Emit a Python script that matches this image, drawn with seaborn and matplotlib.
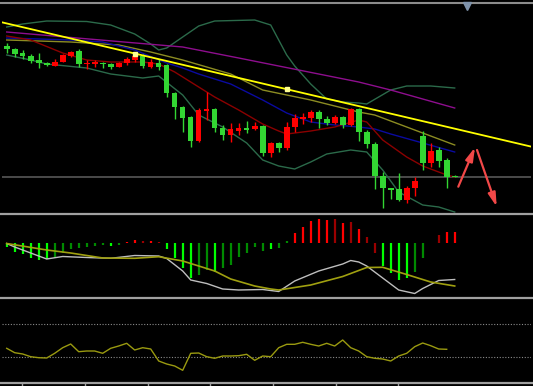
import numpy as np
import matplotlib
matplotlib.use("Agg")
import matplotlib.pyplot as plt
import seaborn as sns

# ---------------- data (screen levels: larger value = lower on the chart) ----------------
opens = [45.7, 49, 53.3, 56, 60.3, 62.7, 65.7, 61.7, 56, 51, 64, 63.3, 62.7, 63.7, 66.7, 63.3, 60.3, 56,
         66.7, 63.3, 65, 92.5, 107, 117.3, 141, 110.7, 109, 127.7, 135, 130.7, 128.3, 129, 126, 153.3, 143.3,
         147.7, 126.7, 119, 118.3, 112.3, 119, 123.3, 117.3, 125, 109.3, 131.7, 144, 176, 188.3, 189.3, 200,
         187.7, 135.7, 162.7, 150, 160, 175.5]
highs = [43, 48.3, 50, 54, 52.7, 62, 58.7, 54.3, 50.7, 48.7, 60, 60, 61.7, 62.7, 61.7, 56.7, 52.7, 54.3,
         59.3, 59.3, 64, 92, 106, 116, 107.7, 92.3, 108, 125, 123.3, 123.3, 121, 121.7, 125, 142, 141.7,
         121.7, 114, 113.3, 110, 110, 116, 115, 116, 108.3, 108, 130, 141.7, 171.7, 188, 172.7, 186, 177.3,
         130.7, 143.3, 147, 158, 175]
lows = [53, 56.7, 59.3, 63, 67.7, 65.5, 66.3, 62, 56.7, 66.7, 69.3, 66.7, 67.7, 69.3, 67.3, 65.3, 61.7, 68.3,
        67.7, 70, 96.7, 119.3, 131.7, 147.3, 142, 120, 131.7, 140, 141.7, 135, 133.3, 130, 155.7, 157.3, 151.7,
        150, 131.7, 124, 121.7, 128.3, 125, 124, 128.3, 126, 141, 148.3, 189.3, 208.3, 199.3, 201, 203.3, 196,
        170, 166.7, 166.7, 187.7, 177]
closes = [49, 54, 56, 61, 63.3, 65, 61.7, 55.3, 51.7, 64, 62.7, 62.3, 64.3, 66.7, 63, 59.3, 56, 66.3, 62.3,
          66.7, 93.3, 106.7, 118.3, 141, 110, 109, 127.7, 135.3, 129, 128.3, 129.7, 125.7, 153.3, 143.3, 148,
          126.7, 118.3, 117.3, 112.3, 119.3, 123.3, 117.3, 125, 109.3, 131.7, 144, 176, 188.3, 189.3, 200,
          187.7, 180.7, 162.7, 150.7, 160.7, 177.3, 176.7]

upper_idx = [0, 2, 5, 10, 13, 16, 18, 19, 20, 22, 24, 26, 31, 33, 35, 36, 38, 40, 42, 44, 45, 48, 50, 53, 56]
upper_val = [27, 24, 21, 21.5, 25, 34, 44, 50, 48, 37, 26, 21, 20, 25, 55, 66, 84, 99, 102, 103, 104, 90, 86, 86, 88]
lower_idx = [0, 3, 5, 10, 13, 17, 19, 22, 24, 27, 30, 32, 34, 36, 38, 40, 43, 45, 47, 49, 52, 54, 56]
lower_val = [55, 60, 64, 68, 74, 78, 76, 95, 115, 127, 143, 160, 166, 169, 162, 154, 150, 152, 170, 192, 205, 207, 212]
red_idx = [0, 3, 7, 10, 13, 17, 19, 21, 23, 26, 29, 32, 34, 35, 38, 41, 44, 45, 47, 50, 52, 55, 56]
red_val = [36, 40, 53, 60, 62, 62, 64, 72, 82, 97, 110, 124, 131, 134, 131, 127, 120, 122, 140, 157, 166, 175, 177]
blue_idx = [0, 8, 12, 16, 20, 22, 24, 28, 32, 35, 38, 41, 44, 46, 48, 52, 56]
blue_val = [38, 40, 42, 50, 63, 68, 74, 84, 100, 113, 122, 125, 127, 129, 134, 143, 152]
olive_idx = [0, 8, 14, 18, 22, 28, 32, 38, 44, 46, 50, 56]
olive_val = [40, 42, 45, 52, 60, 74, 90, 100, 112, 115, 127, 145]
purple_idx = [0, 22, 29, 44, 48, 56]
purple_val = [32, 47, 58, 82, 90, 108]

trend_idx = [16, 35]
trend_val = [53.5, 89.2]
support_level = 176.8
arrow_up = [(56.45, 186.7), (58.54, 147.3)]
arrow_down = [(58.79, 150.0), (61.25, 206.7)]

macd_zero = 243.3
hist_val = [246.7, 251.7, 254.3, 257.7, 260.0, 259.0, 257.7, 253.3, 249.0, 247.7, 246.7, 245.7, 245.3, 245.7,
            244.7, 242.0, 240.0, 241.0, 240.7, 241.7, 249.3, 258.3, 268.3, 278.3, 275.0, 270.0, 271.7, 268.3,
            265.0, 257.3, 252.7, 247.3, 250.5, 249.3, 248.3, 240.7, 232.7, 226.7, 221.0, 219.0, 220.0, 219.3,
            222.7, 221.7, 229.0, 236.7, 252.7, 266.0, 273.3, 280.0, 277.7, 271.7, 258.3, 242.5, 235.0, 232.3, 231.7]
hist_col = list("GGGGGGgggggggGgRRrRrGGGGggGggggggGggRRRRRrRrRrrGGGGgggrRRR")
macd_idx = [0, 1, 5, 7, 10, 13, 16, 19, 20, 22, 23, 25, 27, 29, 32, 34, 36, 39, 42, 43, 44, 45, 47, 49, 51, 52, 54, 56]
macd_val = [243.5, 247, 259, 256.5, 257.5, 258.3, 255.5, 256, 258.5, 271, 280, 283.5, 289, 290, 289.5, 291.5,
            281, 271, 264, 260.5, 262, 266, 278, 290, 293.5, 288.5, 280.5, 279.5]
sig_idx = [0, 5, 8, 12, 16, 19, 22, 26, 28, 31, 33, 34, 38, 42, 45, 47, 50, 53, 56]
sig_val = [243.5, 250, 253, 258, 258.3, 256.7, 261, 271, 279, 286, 289, 290, 285, 276.5, 267.5, 267.3, 274.5, 282, 286]

osc_val = [348.3, 352.7, 354, 356.7, 357.7, 358, 353.3, 347.7, 344, 351.7, 351, 351, 353.3, 348.3, 346, 343.3,
           350, 347.7, 349, 361, 364, 366, 370.3, 353.3, 353, 356.7, 358.3, 356, 356, 355.7, 354.3, 360.3, 356,
           356.7, 347.7, 344.3, 344.3, 342.3, 344.3, 346, 343.3, 346, 340, 347.7, 351, 356.7, 358.3, 359, 361,
           356, 353.3, 346.7, 343, 345.7, 349, 349.3]
osc_levels = [324.3, 357.3]
time_ticks_px = [22, 85, 148, 210, 273, 336, 398]

# ---------------- layout ----------------
W, H = 533, 386
X0, STEP = 6.7, 8.0
fig = plt.figure(figsize=(W / 100, H / 100), dpi=100, facecolor="black")


def px_axes(x0, y0, x1, y1):
    ax = fig.add_axes([x0 / W, 1 - y1 / H, (x1 - x0) / W, (y1 - y0) / H])
    ax.set_facecolor("black")
    return ax


main = px_axes(2, 4, 531, 213)
macd = px_axes(2, 216, 531, 297)
osc = px_axes(2, 299, 531, 382)

GREEN, RED = "#33D633", "#FF0000"

# indicator lines behind candles
for xs, ys, col, lw in [(upper_idx, upper_val, "#2B6A4A", 1.0), (lower_idx, lower_val, "#2B6A4A", 1.0),
                        (purple_idx, purple_val, "#8E0E8E", 1.0), (olive_idx, olive_val, "#8C8C22", 1.0),
                        (blue_idx, blue_val, "#0A0AA0", 1.0), (red_idx, red_val, "#8B0000", 1.0)]:
    sns.lineplot(x=xs, y=ys, ax=main, color=col, linewidth=lw, legend=False, zorder=2)

idx = np.arange(len(opens))
o, c = np.array(opens), np.array(closes)
cols = np.where(c > o, GREEN, RED)
main.vlines(idx, highs, lows, colors=cols, linewidth=1.0, zorder=3)
main.bar(idx, np.maximum(np.abs(c - o), 1.3), bottom=np.minimum(o, c), width=0.7, color=cols,
         linewidth=0, zorder=4)

main.axhline(support_level, color="#505050", linewidth=1.3, zorder=1)
main.axline((trend_idx[0], trend_val[0]), (trend_idx[1], trend_val[1]), color="#FFFF00", linewidth=1.3, zorder=5)
main.plot(trend_idx, trend_val, linestyle="none", marker="s", markersize=2.5, color="#FFFF90", zorder=6)
for a, b in (arrow_up, arrow_down):
    main.annotate("", xy=b, xytext=a,
                  arrowprops=dict(arrowstyle="-|>,head_length=0.8,head_width=0.22", color="#F24848",
                                  linewidth=1.6, shrinkA=0, shrinkB=0), zorder=7)

# MACD panel
cmap = {"G": "#00FF00", "g": "#008A00", "R": "#FF0000", "r": "#9A0000"}
macd.vlines(np.arange(len(hist_val)), macd_zero, hist_val, colors=[cmap[k] for k in hist_col], linewidth=1.6)
sns.lineplot(x=macd_idx, y=macd_val, ax=macd, color="#BEBEBE", linewidth=1.0, legend=False)
sns.lineplot(x=sig_idx, y=sig_val, ax=macd, color="#A0A010", linewidth=1.2, legend=False)

# oscillator panel
for lv in osc_levels:
    osc.axhline(lv, color="#8A8A8A", linewidth=0.8, linestyle=(0, (1, 1.5)))
sns.lineplot(x=np.arange(len(osc_val)), y=osc_val, ax=osc, color="#9A9A10", linewidth=1.0, legend=False)

for ax, (lo, hi) in [(main, (213, 4)), (macd, (297, 216)), (osc, (382, 299))]:
    ax.set_xlim((2 - X0) / STEP, (531 - X0) / STEP)
    ax.set_ylim(lo, hi)
    ax.set_axis_off()

# frame / separators
frame = fig.add_axes([0, 0, 1, 1], zorder=10)
frame.patch.set_alpha(0)
frame.set_xlim(0, W)
frame.set_ylim(H, 0)
frame.set_axis_off()
frame.hlines([2.8], 0, W, color="#8C8C8C", linewidth=1.5)
frame.hlines([214, 298, 383], 0, W, color="#A0A0A0", linewidth=1.6)
frame.vlines(time_ticks_px, 383, 386, color="#A0A0A0", linewidth=1.0)
frame.plot([467], [5.5], marker="v", markersize=6, color="#7F93AB", linestyle="none")

fig.savefig("out.png", dpi=100, facecolor="black")
